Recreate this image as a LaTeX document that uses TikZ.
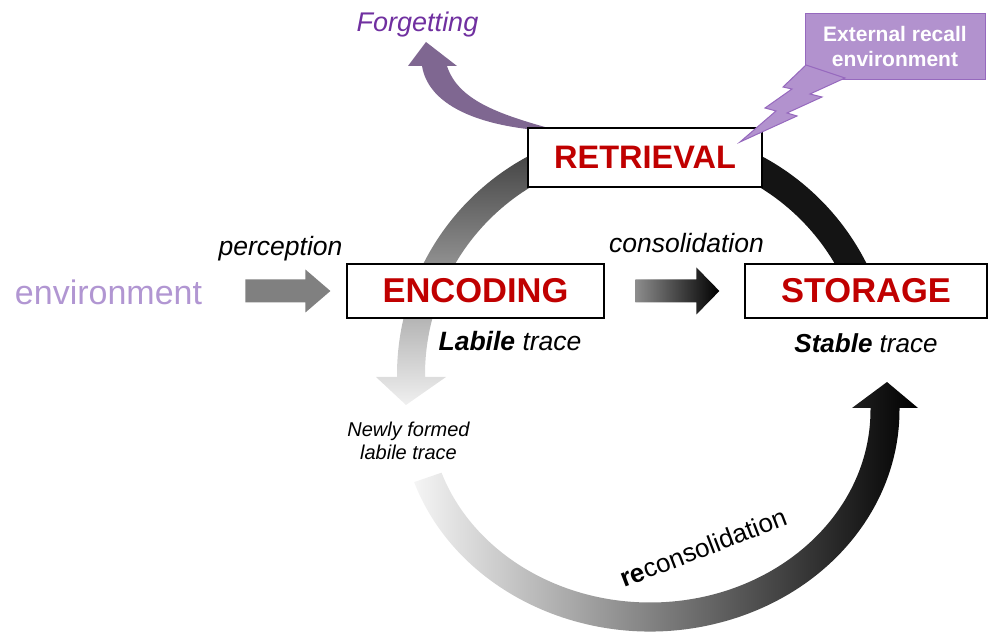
\documentclass[tikz,border=0pt]{standalone}
\usepackage{fontspec}
\setmainfont{Liberation Sans}
\usetikzlibrary{calc}
\definecolor{stagered}{RGB}{192,0,0}
\definecolor{forgetviolet}{RGB}{112,48,160}
\definecolor{forgetarrow}{RGB}{127,103,145}
\definecolor{envlilac}{RGB}{177,150,210}
\definecolor{recallfill}{RGB}{178,146,206}
\definecolor{recallline}{RGB}{150,105,190}
\tikzset{
  stagebox/.style={draw, fill=white, line width=1.2pt, inner sep=0pt, text=stagered},
  tracelabel/.style={font=\fontsize{26.5}{30}\selectfont\itshape},
}

\begin{document}
\begin{tikzpicture}[x=1pt,y=1pt]
    \useasboundingbox (0,0) rectangle (989,632);

    \fill[forgetarrow] (527,503) .. controls (470,510) and (428,530) .. (422,566)
        -- (408,566) -- (426,590) -- (457,566) -- (447,566)
        .. controls (458,532) and (498,518) .. (552,503) -- cycle;

    \begin{scope}[shift={(645,257)}]
        \shade[top color=black!78, middle color=black!48, bottom color=black!6]
            (105:248) arc[start angle=105, end angle=180, radius=248]
            -- (-248,-2) -- (-269,-2) -- (-239,-30) -- (-199,-2) -- (-220,-2)
            -- (180:220) arc[start angle=180, end angle=105, radius=220] -- cycle;
        \fill[black!92] (75:248) arc[start angle=75, end angle=20, radius=248]
            -- (20:220) arc[start angle=20, end angle=75, radius=220] -- cycle;
    \end{scope}

    \begin{scope}[shift={(650,222)}]
        \shade[left color=black!4, middle color=black!70, right color=black]
            (199:249.5 and 221.5) arc[start angle=199, end angle=360, x radius=249.5, y radius=221.5]
            -- (249.5,2) -- (268,2) -- (237,28) -- (202,2) -- (220.5,2)
            -- (0:220.5 and 192.5) arc[start angle=360, end angle=199, x radius=220.5, y radius=192.5] -- cycle;
    \end{scope}

    \node[stagebox, minimum width=234pt, minimum height=59pt, font=\fontsize{32.5}{36}\selectfont\bfseries] (ret) at (645,474.5) {RETRIEVAL};
    \node[stagebox, minimum width=257pt, minimum height=54pt, font=\fontsize{34.5}{38}\selectfont\bfseries] (enc) at (475.5,341) {ENCODING};
    \node[stagebox, minimum width=242pt, minimum height=54pt, font=\fontsize{34.5}{38}\selectfont\bfseries] (sto) at (866,341) {STORAGE};

    \node[draw=recallline, fill=recallfill, line width=1pt, minimum width=180pt, minimum height=66pt, align=center, text=white, font=\fontsize{21}{25}\selectfont\bfseries] (recall) at (895,585.5) {External recall\\environment};
    \filldraw[fill=recallfill, draw=recallline, line width=1pt] (806,567) -- (783,545) -- (792,543) -- (765,524) -- (776,521) -- (740,490)
        -- (797,516) -- (787,519) -- (822,535) -- (810,538) -- (845,554) -- cycle;

    \node[font=\fontsize{34}{40}\selectfont, text=envlilac] (env) at (108.5,339.5) {environment};
    \fill[black!50] ($(enc.west)+(-16,0)$) -- ++(-25,21.5) -- ++(0,-10) -- ++(-60,0) -- ++(0,-23) -- ++(60,0) -- ++(0,-10) -- cycle;
    \shade[left color=black!45, right color=black] ($(sto.west)+(-25,0)$) -- ++(-23,23.5) -- ++(0,-12) -- ++(-61,0) -- ++(0,-23) -- ++(61,0) -- ++(0,-12) -- cycle;

    \node[tracelabel] (percept) at (280.5,383) {perception};
    \node[tracelabel] (consol) at (686.5,388.5) {consolidation};
    \node[tracelabel] (labile) at (510,290.5) {\textbf{Labile} trace};
    \node[tracelabel, font=\fontsize{26}{30}\selectfont\itshape] (stable) at (866,289) {\textbf{Stable} trace};
    \node[font=\fontsize{20}{23}\selectfont\itshape, align=center] (newtrace) at (408.5,191.5) {Newly formed\\labile trace};
    \node[font=\fontsize{26}{30}\selectfont, rotate=21] (recons) at (703,84.5) {\textbf{re}consolidation};
    \node[font=\fontsize{27}{30}\selectfont\itshape, text=forgetviolet] (forget) at (417.5,607) {Forgetting};
\end{tikzpicture}
\end{document}
